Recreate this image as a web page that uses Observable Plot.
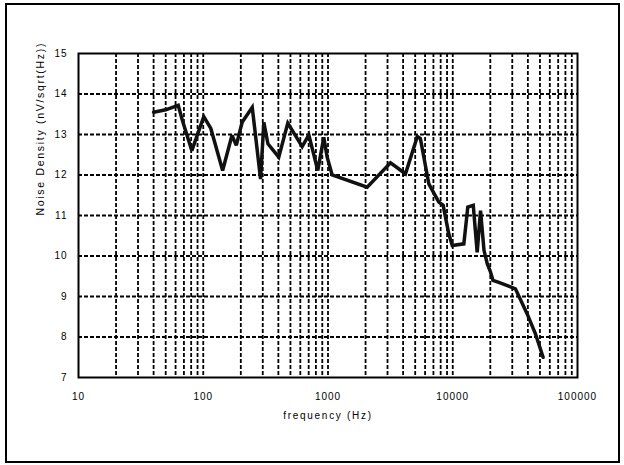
<!DOCTYPE html>
<html>
<head>
<meta charset="utf-8">
<script src="https://cdn.jsdelivr.net/npm/d3@7"></script>
<script src="https://cdn.jsdelivr.net/npm/@observablehq/plot@0.6"></script>
<style>
  html, body { margin: 0; padding: 0; background: #fff; }
  #wrap { position: relative; width: 624px; height: 465px; }
  #border { position: absolute; left: 5px; top: 3px; width: 611px; height: 456px; border: 2px solid #000; pointer-events: none; }
  svg { font-family: "Liberation Sans", Arial, sans-serif; }
</style>
</head>
<body>
<div id="wrap"><div id="border"></div></div>
<script>
// Data
const frequency = [40, 50, 63, 68, 81, 101, 115, 143, 170, 184, 205, 247, 288, 306, 330, 403, 476, 621, 702, 828, 925, 985, 1080, 2060, 3170, 4180, 5200, 5500, 6430, 7730, 8380, 9290, 9910, 12270, 13200, 14600, 15700, 16700, 17800, 18900, 20100, 21000, 23400, 31800, 39500, 46000, 53000];
const noise = [13.55, 13.61, 13.72, 13.35, 12.6, 13.44, 13.15, 12.11, 12.98, 12.73, 13.3, 13.67, 11.9, 13.3, 12.77, 12.44, 13.28, 12.70, 12.99, 12.11, 12.93, 12.44, 12.0, 11.70, 12.3, 12.03, 12.95, 12.9, 11.78, 11.33, 11.25, 10.55, 10.26, 10.30, 11.21, 11.25, 10.09, 11.12, 10.14, 9.81, 9.6, 9.4, 9.35, 9.19, 8.57, 8.08, 7.50];
const xTicks = [10, 100, 1000, 10000, 100000];
const yTicks = [7, 8, 9, 10, 11, 12, 13, 14, 15];
const decades = [10, 100, 1000, 10000];
const multipliers = [1, 2, 3, 4, 5, 6, 7, 8, 9];
const xLabel = "frequency (Hz)";
const yLabel = "Noise Density (nV/sqrt(Hz))";

const data = frequency.map((f, i) => ({f, v: noise[i]}));
const gridX = decades.flatMap(d => multipliers.map(m => d * m)).filter(v => v > 10);
const gridY = yTicks.slice(1, -1);

const chart = Plot.plot({
  width: 624,
  height: 465,
  marginLeft: 78,
  marginRight: 47,
  marginTop: 53,
  marginBottom: 88,
  style: {fontFamily: '"Liberation Sans", Arial, sans-serif', fontSize: "10px", color: "#000", background: "transparent"},
  x: {type: "log", domain: [10, 100000]},
  y: {domain: [7, 15]},
  marks: [
    Plot.ruleX(gridX, {stroke: "#000", strokeWidth: 1.8, strokeDasharray: "4,2"}),
    Plot.ruleY(gridY, {stroke: "#000", strokeWidth: 1.8, strokeDasharray: "4,2"}),
    Plot.frame({stroke: "#000", strokeWidth: 2}),
    Plot.line(data, {x: "f", y: "v", stroke: "#111", strokeWidth: 3.5, strokeLinejoin: "miter", strokeMiterlimit: 3}),
    Plot.axisX({ticks: xTicks, tickSize: 0, tickPadding: 15, tickFormat: d => String(d), label: null, fill: "#000"}),
    Plot.axisY({ticks: yTicks, tickSize: 0, tickPadding: 11, tickFormat: d => String(d), label: null, fill: "#000"}),
    Plot.text([xLabel], {frameAnchor: "bottom", dy: 41, text: d => d, fontSize: 10, fill: "#000"}),
    Plot.text([yLabel], {frameAnchor: "left", dx: -38, rotate: -90, text: d => d, fontSize: 10.5, fill: "#000"})
  ]
});
d3.select(chart).selectAll("text").style("letter-spacing", "1px");
d3.select(chart).selectAll("g[aria-label='text'] text").style("letter-spacing", "1.7px");
document.getElementById("wrap").prepend(chart);
</script>
</body>
</html>
